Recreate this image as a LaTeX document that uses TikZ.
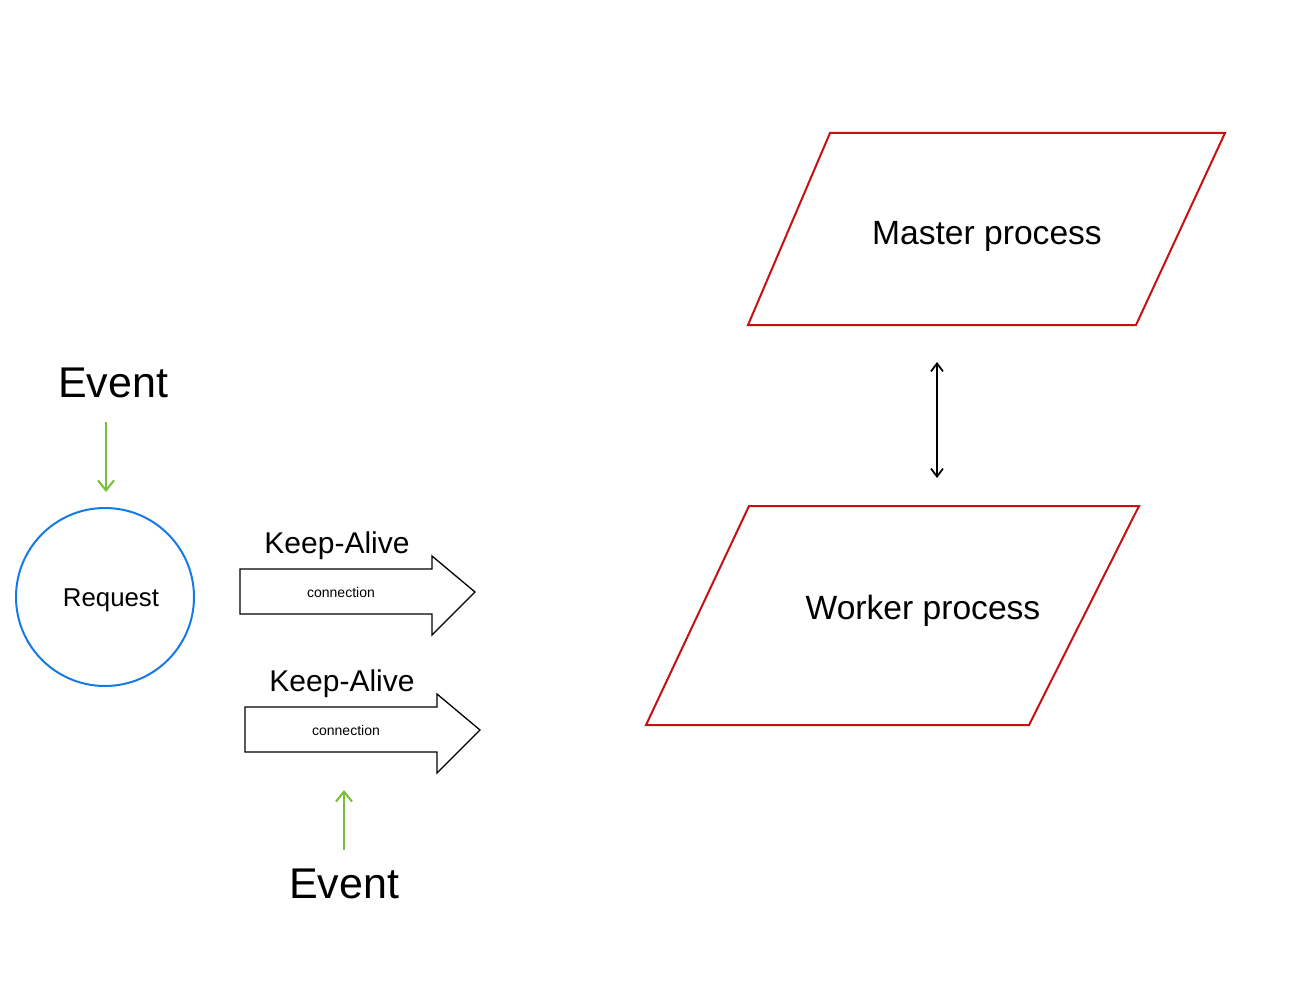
\documentclass[tikz,border=0pt]{standalone}
\usepackage{fontspec}
\setmainfont{Liberation Sans}
\usetikzlibrary{arrows.meta}
\definecolor{redline}{RGB}{200,16,20}
\definecolor{blueline}{RGB}{22,122,228}
\definecolor{greenline}{RGB}{122,190,58}
\tikzset{
  redpar/.style={draw=redline, line width=2pt, line join=miter},
  blockarrow/.style={draw=black, line width=1.3pt, line join=miter},
  txt/.style={inner sep=0pt, text=black},
  garrow/.style={draw=greenline, line width=2pt, -{Straight Barb[length=10pt,width=16pt]}},
  darrow/.style={draw=black, line width=1.7pt, {Straight Barb[length=8pt,width=12pt]}-{Straight Barb[length=8pt,width=12pt]}},
}
\begin{document}
\begin{tikzpicture}[x=1pt,y=-1pt]
\useasboundingbox (0,0) rectangle (1301,1000);
\fill[white] (0,0) rectangle (1301,1000);

% Master / Worker parallelograms
\draw[redpar] (830,133) -- (1225,133) -- (1136,325) -- (748,325) -- cycle;
\node[txt, font=\fontsize{33.6}{40}\selectfont] (master) at (987,236) {Master process};
\draw[redpar] (749,506) -- (1139,506) -- (1029,725) -- (646,725) -- cycle;
\node[txt, font=\fontsize{33.6}{40}\selectfont] (worker) at (923,611) {Worker process};
\coordinate (mb) at (937,325);
\coordinate (wt) at (937,506);
\draw[darrow] ([yshift=-37pt]mb) -- ([yshift=28pt]wt);

% Request circle
\node[circle, draw=blueline, line width=2pt, minimum size=178pt, inner sep=0pt] (req) at (105,597) {};
\node[txt, font=\fontsize{25.8}{30}\selectfont] (reqtext) at (111,600) {Request};

% Top event
\node[txt, font=\fontsize{43}{50}\selectfont] (ev1) at (113,383) {Event};
\draw[garrow] ([xshift=-7pt,yshift=-24pt]ev1.south) -- ([xshift=1pt,yshift=15pt]req.north);

% Keep-Alive arrow 1
\draw[blockarrow] (240,569) -- (432,569) -- (432,556) -- (475,592) -- (432,635) -- (432,614) -- (240,614) -- cycle;
\node[txt, font=\fontsize{14}{16}\selectfont] (conn1) at (341,592) {connection};
\node[txt, font=\fontsize{30}{36}\selectfont] (ka1) at (337,546) {Keep-Alive};

% Keep-Alive arrow 2
\draw[blockarrow] (245,707) -- (437,707) -- (437,694) -- (480,730) -- (437,773) -- (437,752) -- (245,752) -- cycle;
\node[txt, font=\fontsize{14}{16}\selectfont] (conn2) at (346,730) {connection};
\node[txt, font=\fontsize{30}{36}\selectfont] (ka2) at (342,684) {Keep-Alive};
\coordinate (ka2b) at (344,752);

% Bottom event
\node[txt, font=\fontsize{43}{50}\selectfont] (ev2) at (344,884) {Event};
\draw[garrow] ([yshift=19pt]ev2.north) -- ([yshift=-38pt]ka2b);
\end{tikzpicture}
\end{document}
